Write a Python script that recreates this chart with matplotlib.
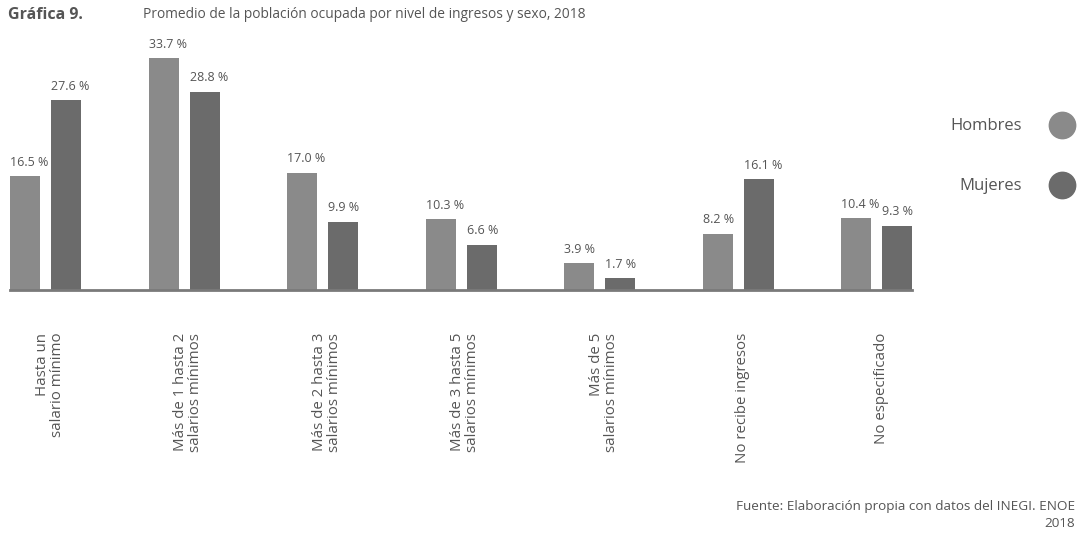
import matplotlib.pyplot as plt
from matplotlib.lines import Line2D
import numpy as np

# ── Data ──────────────────────────────────────────────────────────────────────
categorias = [
    "Hasta un\nsalario mínimo",
    "Más de 1 hasta 2\nsalarios mínimos",
    "Más de 2 hasta 3\nsalarios mínimos",
    "Más de 3 hasta 5\nsalarios mínimos",
    "Más de 5\nsalarios mínimos",
    "No recibe ingresos",
    "No especificado",
]
hombres = [16.5, 33.7, 17.0, 10.3, 3.9, 8.2, 10.4]
mujeres = [27.6, 28.8, 9.9, 6.6, 1.7, 16.1, 9.3]

# ── Style ─────────────────────────────────────────────────────────────────────
plt.rcParams["font.family"] = ["Open Sans", "DejaVu Sans"]
COL_H = "#8a8a8a"
COL_M = "#6b6b6b"
TXT = "#555555"
FS = 9

W, H = 1078, 535
fig = plt.figure(figsize=(W / 100, H / 100), dpi=100)

# axes: baseline at y=290 px, left edge 10 px, right edge 912 px
ax = fig.add_axes([10 / W, (H - 290) / H, 902 / W, 254.6 / H])
x = np.arange(len(categorias))
bw = 0.216
off = 0.148
ax.bar(x - off, hombres, width=bw, color=COL_H)
ax.bar(x + off, mujeres, width=bw, color=COL_M)

for xi, v in zip(x - off, hombres):
    ax.text(xi - bw / 2, v + 1.1, f"{v:.1f} %", ha="left", va="bottom",
            fontsize=FS, color=TXT)
for xi, v in zip(x + off, mujeres):
    ax.text(xi - bw / 2, v + 1.1, f"{v:.1f} %", ha="left", va="bottom",
            fontsize=FS, color=TXT)

ax.set_xlim(-0.256, 6.253)
ax.set_ylim(0, 37)
for s in ["top", "right", "left"]:
    ax.spines[s].set_visible(False)
ax.spines["bottom"].set_color("#7a7a7a")
ax.spines["bottom"].set_linewidth(2)
ax.set_yticks([])
ax.set_xticks([])

# rotated category labels under the axis
for xi, lab in zip(x, categorias):
    ax.text(xi + 0.03, -6.2, lab, rotation=90, ha="center", va="top",
            multialignment="right", fontsize=10.8, color=TXT,
            transform=ax.transData, linespacing=1.0)

# ── Title ─────────────────────────────────────────────────────────────────────
fig.text(8 / W, 1 - 15 / H, "Gráfica 9.", fontsize=11.5, fontweight="bold",
         color=TXT, va="center", ha="left")
fig.text(143 / W, 1 - 15 / H,
         "Promedio de la población ocupada por nivel de ingresos y sexo, 2018",
         fontsize=9.9, color=TXT, va="center", ha="left")

# ── Legend ────────────────────────────────────────────────────────────────────
for lab, col, yy in [("Hombres", COL_H, 126), ("Mujeres", COL_M, 186)]:
    fig.text(1022 / W, 1 - yy / H, lab, fontsize=12, color=TXT,
             ha="right", va="center")
    fig.add_artist(Line2D([1062 / W], [1 - (yy - 1) / H], marker="o",
                          markersize=19, color=col, linestyle="none",
                          transform=fig.transFigure))

# ── Source ────────────────────────────────────────────────────────────────────
fig.text(1075 / W, 1 - 515 / H,
         "Fuente: Elaboración propia con datos del INEGI. ENOE\n2018",
         fontsize=9.7, color=TXT, ha="right", va="center",
         multialignment="right", linespacing=1.45)

fig.savefig("out.png", dpi=100)
